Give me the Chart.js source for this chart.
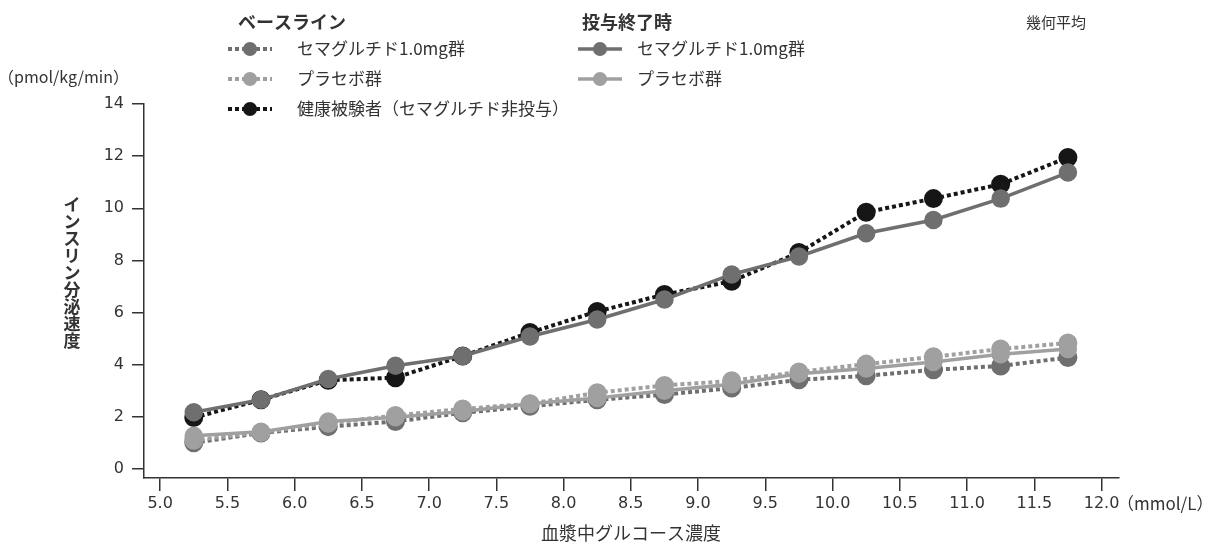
<!DOCTYPE html>
<html>
<head>
<meta charset="utf-8">
<script src="https://cdn.jsdelivr.net/npm/chart.js@4.4.1/dist/chart.umd.min.js"></script>
<style>
html, body { margin: 0; padding: 0; background: #fff; }
#wrap { width: 1213px; height: 544px; }
</style>
</head>
<body>
<div id="wrap"><canvas id="chartInsulina" width="1213" height="544"></canvas></div>
<script>
// 血漿中グルコース濃度 (mmol/L)
const glucosa = [5.25, 5.75, 6.25, 6.75, 7.25, 7.75, 8.25, 8.75, 9.25, 9.75, 10.25, 10.75, 11.25, 11.75];

// ベースライン
const semaBase    = [1.0, 1.38, 1.62, 1.82, 2.15, 2.4, 2.65, 2.85, 3.1, 3.42, 3.57, 3.8, 3.95, 4.27];
const placeboBase = [1.1, 1.4, 1.75, 2.05, 2.3, 2.5, 2.92, 3.2, 3.38, 3.72, 4.02, 4.3, 4.6, 4.83];
const sanos       = [1.97, 2.65, 3.4, 3.5, 4.33, 5.23, 6.04, 6.69, 7.2, 8.3, 9.85, 10.37, 10.92, 11.95];

// 投与終了時
const semaFin     = [2.17, 2.65, 3.45, 3.96, 4.33, 5.08, 5.73, 6.5, 7.46, 8.15, 9.04, 9.55, 10.37, 11.37];
const placeboFin  = [1.27, 1.42, 1.82, 1.98, 2.2, 2.5, 2.72, 3.0, 3.25, 3.65, 3.85, 4.1, 4.4, 4.6];

const xTicks = [5.0, 5.5, 6.0, 6.5, 7.0, 7.5, 8.0, 8.5, 9.0, 9.5, 10.0, 10.5, 11.0, 11.5, 12.0];
const yTicks = [0, 2, 4, 6, 8, 10, 12, 14];

const GRIS_OSCURO = '#6f6f6f';
const GRIS_CLARO = '#a0a0a0';
const NEGRO = '#161616';
const TEXTO = '#333';
const FUENTE_JP = '"Noto Sans CJK JP", "Noto Sans", sans-serif';
const FUENTE_NUM = '"DejaVu Sans", Verdana, sans-serif';

function puntos(valores) {
    return valores.map((v, i) => ({ x: glucosa[i], y: v }));
}

function serie(label, valores, color, punteada, orden) {
    return {
        label,
        data: puntos(valores),
        borderColor: color,
        backgroundColor: color,
        pointBackgroundColor: color,
        pointBorderColor: color,
        pointRadius: 7.5,
        pointHoverRadius: 7.5,
        borderWidth: punteada ? 4 : 3.5,
        borderDash: punteada ? [4, 3] : [],
        tension: 0,
        fill: false,
        order: orden,
        clip: false
    };
}

const gruposLeyenda = [
    { titulo: 'ベースライン', tx: 238, x: 228, texto: 297, series: [0, 1, 2] },
    { titulo: '投与終了時', tx: 582, x: 578, texto: 637, series: [3, 4] }
];
const filasLeyenda = [49, 79, 109];

const textos = {
    id: 'textos',
    afterDraw(chart) {
        const ctx = chart.ctx;
        ctx.save();
        ctx.fillStyle = TEXTO;
        ctx.textBaseline = 'middle';

        // leyenda
        gruposLeyenda.forEach(g => {
            ctx.font = 'bold 18px ' + FUENTE_JP;
            ctx.textAlign = 'left';
            ctx.fillStyle = TEXTO;
            ctx.fillText(g.titulo, g.tx, 22);
            g.series.forEach((idx, fila) => {
                const ds = chart.data.datasets[idx];
                const y = filasLeyenda[fila];
                ctx.strokeStyle = ds.borderColor;
                ctx.lineWidth = ds.borderWidth;
                ctx.setLineDash(ds.borderDash);
                ctx.beginPath();
                ctx.moveTo(g.x, y);
                ctx.lineTo(g.x + 44, y);
                ctx.stroke();
                ctx.setLineDash([]);
                ctx.fillStyle = ds.backgroundColor;
                ctx.beginPath();
                ctx.arc(g.x + 22, y, 7, 0, Math.PI * 2);
                ctx.fill();
                ctx.fillStyle = TEXTO;
                ctx.font = '17px ' + FUENTE_JP;
                ctx.fillText(ds.label, g.texto, y);
            });
        });

        ctx.font = '15px ' + FUENTE_JP;
        ctx.fillText('幾何平均', 1026, 22);

        // unidades
        ctx.font = '16px ' + FUENTE_JP;
        ctx.textAlign = 'left';
        ctx.fillText('（pmol/kg/min）', -2, 77);
        ctx.font = '17px ' + FUENTE_JP;
        ctx.fillText('（mmol/L）', 1117, 504);

        // título eje x
        ctx.font = '18px ' + FUENTE_JP;
        ctx.textAlign = 'center';
        ctx.fillText('血漿中グルコース濃度', 631, 533);

        // título eje y (vertical)
        ctx.font = 'bold 17px ' + FUENTE_JP;
        const tituloY = 'インスリン分泌速度';
        [...tituloY].forEach((c, i) => {
            ctx.fillText(c, 72, 205 + i * 17);
        });

        ctx.restore();
    }
};

new Chart(document.getElementById('chartInsulina'), {
    type: 'line',
    data: {
        datasets: [
            serie('セマグルチド1.0mg群', semaBase, GRIS_OSCURO, true, 4),
            serie('プラセボ群', placeboBase, GRIS_CLARO, true, 3),
            serie('健康被験者（セマグルチド非投与）', sanos, NEGRO, true, 5),
            serie('セマグルチド1.0mg群', semaFin, GRIS_OSCURO, false, 1),
            serie('プラセボ群', placeboFin, GRIS_CLARO, false, 2)
        ]
    },
    options: {
        responsive: false,
        animation: false,
        layout: { padding: { left: 0, top: 104, right: 94, bottom: 0 } },
        plugins: {
            legend: { display: false },
            tooltip: { enabled: false }
        },
        scales: {
            x: {
                type: 'linear',
                min: 4.88,
                max: 12.13,
                afterBuildTicks: scale => { scale.ticks = xTicks.map(v => ({ value: v })); },
                afterFit: scale => { scale.height = 66; },
                grid: {
                    display: true,
                    drawOnChartArea: false,
                    drawTicks: true,
                    tickLength: 13,
                    color: TEXTO,
                    lineWidth: 1.5
                },
                border: { display: true, color: TEXTO, width: 1.5 },
                ticks: {
                    callback: v => Number(v).toFixed(1),
                    color: TEXTO,
                    padding: 3,
                    maxRotation: 0,
                    autoSkip: false,
                    font: { family: FUENTE_NUM, size: 16 }
                }
            },
            y: {
                type: 'linear',
                min: -0.35,
                max: 14,
                afterBuildTicks: scale => { scale.ticks = yTicks.map(v => ({ value: v })); },
                afterFit: scale => { scale.width = 144; },
                grid: {
                    display: true,
                    drawOnChartArea: false,
                    drawTicks: true,
                    tickLength: 12,
                    color: TEXTO,
                    lineWidth: 1.5
                },
                border: { display: true, color: TEXTO, width: 1.5 },
                ticks: {
                    callback: v => v,
                    color: TEXTO,
                    padding: 8,
                    autoSkip: false,
                    font: { family: FUENTE_NUM, size: 16 }
                }
            }
        }
    },
    plugins: [textos]
});
</script>
</body>
</html>
